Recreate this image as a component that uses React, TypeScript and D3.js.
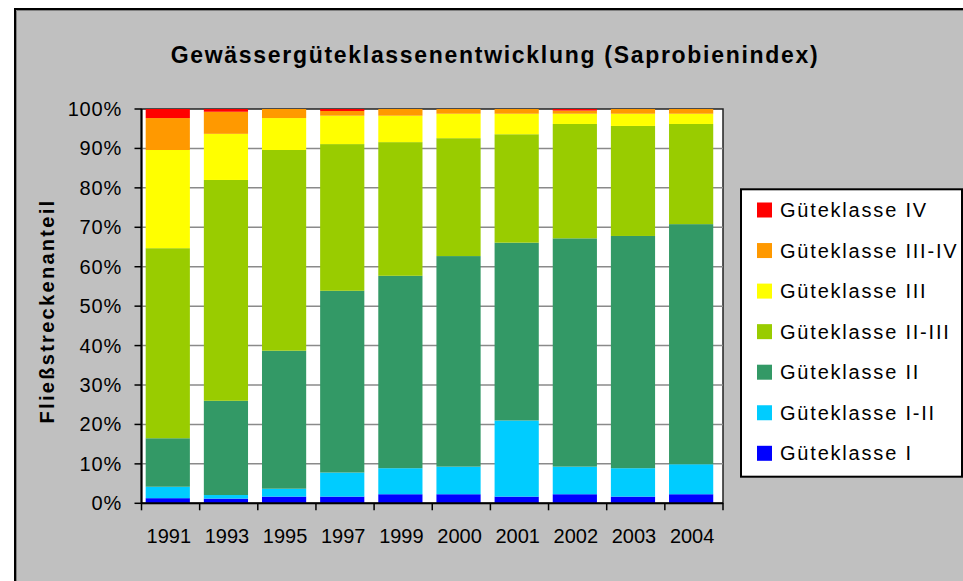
import React from 'react';
import * as d3 from 'd3';

// years on the x axis
const years = ['1991', '1993', '1995', '1997', '1999', '2000', '2001', '2002', '2003', '2004'];

// share of river length per quality class (percent), bottom to top
const klasseI = [1.3, 1.2, 1.7, 1.7, 2.3, 2.3, 1.7, 2.3, 1.7, 2.3];
const klasseI_II = [2.9, 0.9, 2.0, 6.1, 6.6, 7.0, 19.3, 7.0, 7.2, 7.6];
const klasseII = [12.3, 23.9, 35.0, 46.1, 48.8, 53.4, 45.1, 57.9, 58.9, 60.9];
const klasseII_III = [48.2, 56.0, 50.9, 37.2, 33.9, 29.9, 27.5, 29.0, 27.9, 25.4];
const klasseIII = [24.9, 11.7, 8.1, 7.2, 6.7, 6.2, 5.2, 2.6, 3.1, 2.6];
const klasseIII_IV = [8.1, 5.6, 2.3, 1.2, 1.7, 1.2, 1.2, 0.8, 1.2, 1.2];
const klasseIV = [2.3, 0.7, 0, 0.5, 0, 0, 0, 0.4, 0, 0];

const seriesNames = [
  'Güteklasse I',
  'Güteklasse I-II',
  'Güteklasse II',
  'Güteklasse II-III',
  'Güteklasse III',
  'Güteklasse III-IV',
  'Güteklasse IV',
];
const seriesValues = [klasseI, klasseI_II, klasseII, klasseII_III, klasseIII, klasseIII_IV, klasseIV];
const colors = ['#0000FF', '#00CCFF', '#339966', '#99CC00', '#FFFF00', '#FF9900', '#FF0000'];

const yTicks = [0, 0.1, 0.2, 0.3, 0.4, 0.5, 0.6, 0.7, 0.8, 0.9, 1];

const font = "'Liberation Sans', Arial, sans-serif";

export default function App() {
  const width = 963;
  const height = 581;
  const plot = { left: 141.5, right: 723, top: 109, bottom: 503.3 };

  const rows = years.map((yr, i) => {
    const r: Record<string, number | string> = { year: yr };
    seriesNames.forEach((s, k) => (r[s] = seriesValues[k][i]));
    return r;
  });

  const stack = d3
    .stack<any>()
    .keys(seriesNames)
    .offset(d3.stackOffsetExpand);
  const layers = stack(rows as any);

  const xTick = d3.scaleBand().domain(years).range([plot.left, plot.right]).padding(0);
  const x = d3
    .scaleBand()
    .domain(years)
    .range([plot.left, plot.right])
    .paddingInner(0.24)
    .paddingOuter(0.12)
    .align(0.3);
  const y = d3.scaleLinear().domain([0, 1]).range([plot.bottom, plot.top]);

  const legendX = 741;
  const legendTop = 189.3;
  const legendRow = d3
    .scalePoint()
    .domain(seriesNames.slice().reverse())
    .range([210, 453.3]);

  return (
    <svg
      width={width}
      height={height}
      style={{ position: 'absolute', left: 0, top: 0, background: '#fff' }}
      fontFamily={font}
    >
      {/* chart area */}
      <rect x={15} y={9} width={width + 10} height={height + 10} fill="#C0C0C0" stroke="#000" strokeWidth={2} />
      <path d={`M16.5,${height} V10.5 H${width}`} fill="none" stroke="#808080" strokeWidth={1} />

      <text
        x={495}
        y={63}
        textAnchor="middle"
        fontSize={23}
        fontWeight="bold"
        letterSpacing={1.7}
        fill="#000"
      >
        Gewässergüteklassenentwicklung (Saprobienindex)
      </text>

      {/* plot area */}
      <rect
        x={plot.left}
        y={plot.top}
        width={plot.right - plot.left}
        height={plot.bottom - plot.top}
        fill="#fff"
        stroke="#222"
        strokeWidth={1.5}
      />
      {yTicks.slice(1, -1).map(t => (
        <line
          key={t}
          x1={plot.left}
          x2={plot.right}
          y1={y(t)}
          y2={y(t)}
          stroke="#8a8a8a"
          strokeWidth={1.5}
        />
      ))}

      {/* bars */}
      {layers.map((layer, k) => (
        <g key={layer.key} fill={colors[k]}>
          {layer.map((d, i) => (
            <rect
              key={years[i]}
              x={x(years[i])}
              y={y(d[1])}
              width={x.bandwidth()}
              height={Math.max(0, y(d[0]) - y(d[1]))}
            />
          ))}
        </g>
      ))}

      {/* y axis */}
      <line x1={plot.left} x2={plot.left} y1={plot.top} y2={plot.bottom} stroke="#000" strokeWidth={2} />
      {yTicks.map(t => (
        <g key={t}>
          <line x1={plot.left - 7} x2={plot.left} y1={y(t)} y2={y(t)} stroke="#000" strokeWidth={1.5} />
          <text x={122} y={y(t) + 7} textAnchor="end" fontSize={20} letterSpacing={0.8} fill="#000">
            {d3.format('.0%')(t)}
          </text>
        </g>
      ))}

      {/* x axis */}
      <line x1={plot.left} x2={plot.right} y1={plot.bottom} y2={plot.bottom} stroke="#000" strokeWidth={2} />
      {years.map(yr => (
        <line
          key={yr}
          x1={xTick(yr)! + xTick.bandwidth()}
          x2={xTick(yr)! + xTick.bandwidth()}
          y1={plot.bottom}
          y2={plot.bottom + 7}
          stroke="#000"
          strokeWidth={1.5}
        />
      ))}
      <line x1={plot.left} x2={plot.left} y1={plot.bottom} y2={plot.bottom + 7} stroke="#000" strokeWidth={1.5} />
      {years.map(yr => (
        <text
          key={yr}
          x={x(yr)! + x.bandwidth() / 2 + 1}
          y={543}
          textAnchor="middle"
          fontSize={20}
          fill="#000"
        >
          {yr}
        </text>
      ))}

      <text
        transform="translate(54,311) rotate(-90)"
        textAnchor="middle"
        fontSize={20}
        fontWeight="bold"
        letterSpacing={2.3}
        fill="#000"
      >
        Fließstreckenanteil
      </text>

      {/* legend */}
      <rect
        x={legendX}
        y={legendTop}
        width={221}
        height={476.7 - legendTop}
        fill="#fff"
        stroke="#000"
        strokeWidth={2}
      />
      {seriesNames.map((s, k) => (
        <g key={s} transform={`translate(0,${legendRow(s)})`}>
          <rect x={757} y={-7.5} width={15} height={15} fill={colors[k]} />
          <text x={780} y={7} fontSize={20} letterSpacing={1.8} fill="#000">
            {s}
          </text>
        </g>
      ))}
    </svg>
  );
}
